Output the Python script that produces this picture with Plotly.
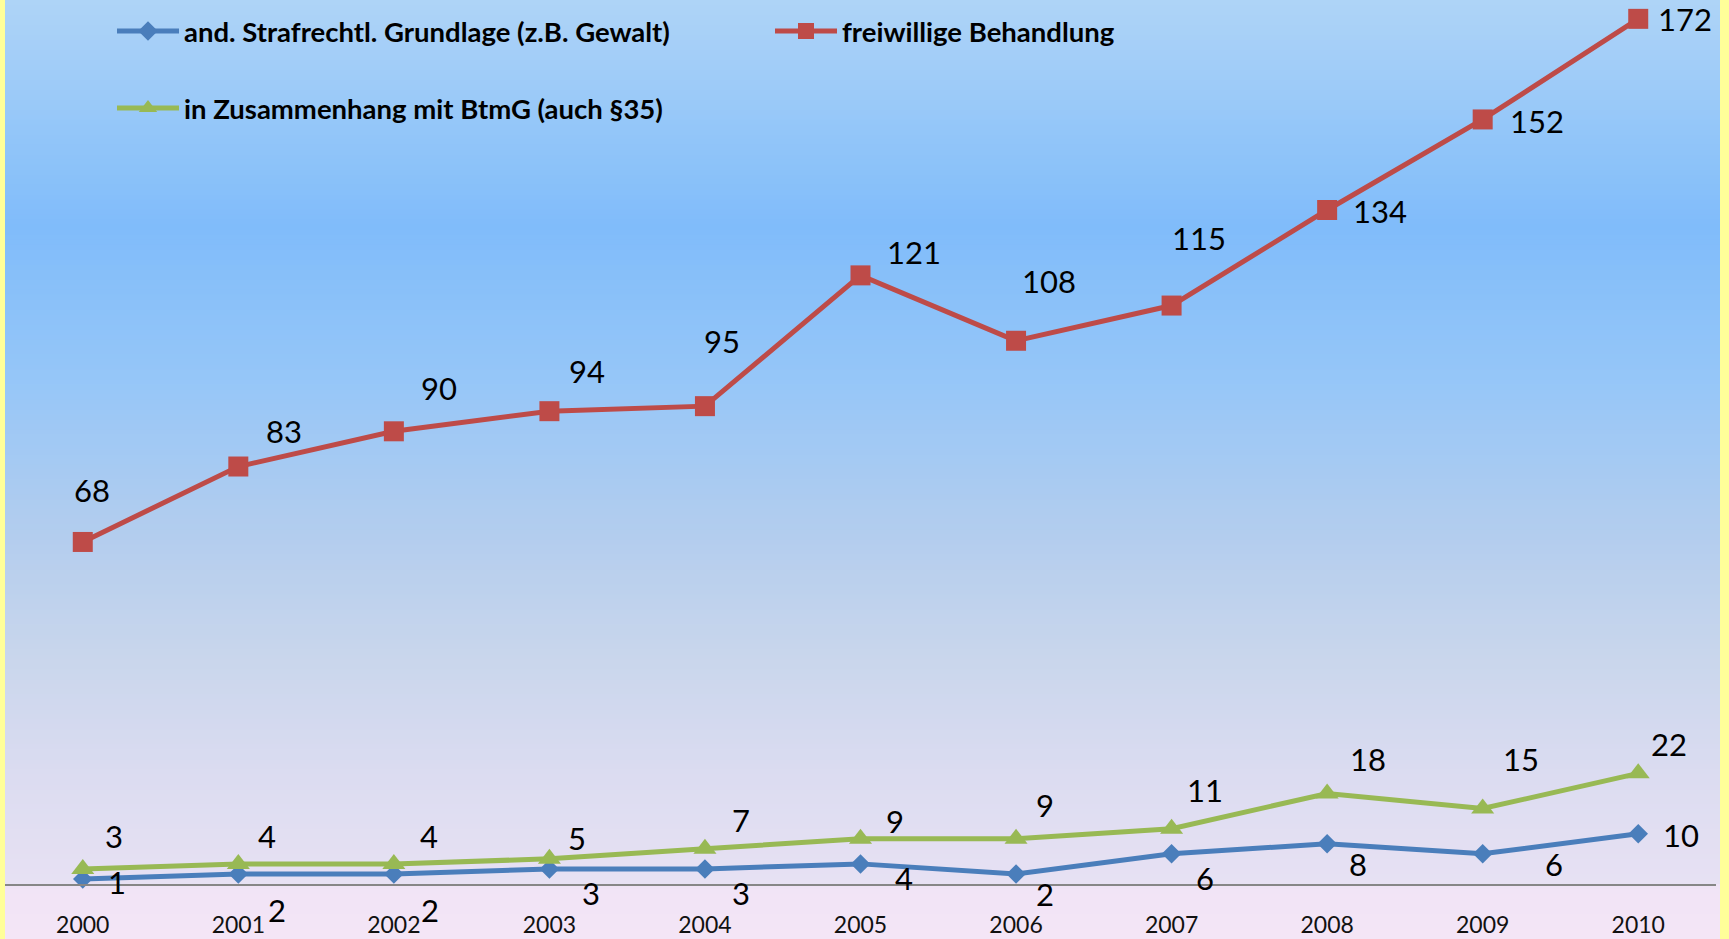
import plotly.graph_objects as go

# --- data -------------------------------------------------------------
years = ["2000", "2001", "2002", "2003", "2004", "2005",
         "2006", "2007", "2008", "2009", "2010"]
gewalt = [1, 2, 2, 3, 3, 4, 2, 6, 8, 6, 10]
freiwillig = [68, 83, 90, 94, 95, 121, 108, 115, 134, 152, 172]
btmg = [3, 4, 4, 5, 7, 9, 9, 11, 18, 15, 22]

name_gewalt = "and. Strafrechtl. Grundlage (z.B. Gewalt)"
name_freiwillig = "freiwillige Behandlung"
name_btmg = "in Zusammenhang mit BtmG (auch §35)"

# --- label offsets in px (dx right, dy up) ------------------------------
off_freiwillig = [(9, 52), (46, 36), (45, 43), (38, 40), (17, 65), (53, 23),
                  (33, 60), (27, 68), (53, -1), (54, -2), (47, 0)]
off_gewalt = [(34, -3), (39, -36), (36, -36), (42, -24), (36, -24), (43, -14),
              (29, -20), (33, -24), (31, -20), (71, -10), (43, -1)]
off_btmg = [(31, 33), (29, 28), (35, 28), (28, 21), (36, 29), (34, 18),
            (29, 34), (33, 39), (41, 34), (38, 50), (31, 29)]

W, H = 1729, 939
BLUE = "#4a7ebb"
RED = "#be4b48"
GREEN = "#98b954"
FONT = "Lato"

fig = go.Figure()

fig.add_trace(go.Scatter(
    x=years, y=gewalt, name=name_gewalt, mode="lines+markers",
    line=dict(color=BLUE, width=5),
    marker=dict(symbol="diamond", size=15, color=BLUE),
    legend="legend", cliponaxis=False,
))
fig.add_trace(go.Scatter(
    x=years, y=freiwillig, name=name_freiwillig, mode="lines+markers",
    line=dict(color=RED, width=5),
    marker=dict(symbol="square", size=20, color=RED),
    legend="legend", cliponaxis=False,
))
fig.add_trace(go.Scatter(
    x=years, y=btmg, name=name_btmg, mode="lines+markers",
    line=dict(color=GREEN, width=5),
    marker=dict(symbol="triangle-up", size=20, color=GREEN),
    legend="legend2", cliponaxis=False,
))

# --- value labels (x given as category index) ----------------------------
annotations = []
for vals, offs in ((freiwillig, off_freiwillig), (gewalt, off_gewalt), (btmg, off_btmg)):
    for i, (v, (dx, dy)) in enumerate(zip(vals, offs)):
        annotations.append(dict(
            x=i, y=v, xref="x", yref="y", text=str(v), showarrow=False,
            xshift=dx, yshift=dy, xanchor="center", yanchor="middle",
            font=dict(family=FONT, size=31, color="black"),
        ))

# --- background gradient (light blue -> lavender) -----------------------
stops = [
    (0.00, "#afd4f7"),
    (0.24, "#80bcfa"),
    (0.40, "#95c6f8"),
    (0.57, "#b3cdee"),
    (0.70, "#c9d6ec"),
    (0.83, "#dcdcf1"),
    (0.94, "#e7e1f3"),
    (0.945, "#f1e4f6"),
    (1.00, "#f4e5f6"),
]


def hex_rgb(h):
    h = h.lstrip("#")
    return tuple(int(h[i:i + 2], 16) for i in (0, 2, 4))


def color_at(t):
    for (t0, c0), (t1, c1) in zip(stops[:-1], stops[1:]):
        if t0 <= t <= t1:
            f = 0 if t1 == t0 else (t - t0) / (t1 - t0)
            a, b = hex_rgb(c0), hex_rgb(c1)
            return "rgb(%d,%d,%d)" % tuple(round(a[i] + (b[i] - a[i]) * f) for i in range(3))
    return stops[-1][1]


shapes = []
n_bands = 188
for i in range(n_bands):
    t0 = i / n_bands
    t1 = (i + 1) / n_bands
    shapes.append(dict(
        type="rect", xref="paper", yref="paper", x0=0, x1=1,
        y0=1 - t1 - 0.001, y1=1 - t0, fillcolor=color_at((t0 + t1) / 2),
        line=dict(width=0), layer="below",
    ))
# yellow frame at the left and right edges
for x0, x1 in ((0, 5 / W), (1720 / W, 1)):
    shapes.append(dict(
        type="rect", xref="paper", yref="paper", x0=x0, x1=x1, y0=0, y1=1,
        fillcolor="#ffff99", line=dict(width=0), layer="below",
    ))

axis_y = 884  # pixel row of the category axis
legend_font = dict(family=FONT, size=27.5, color="black", weight="bold")

fig.update_layout(
    width=W, height=H, autosize=False,
    margin=dict(l=0, r=0, t=0, b=0, pad=0),
    paper_bgcolor="#f4e5f6",
    plot_bgcolor="rgba(0,0,0,0)",
    shapes=shapes,
    annotations=annotations,
    xaxis=dict(
        type="category", range=[-0.5, 10.5], domain=[5 / W, 1716 / W],
        showgrid=False, zeroline=False, showline=True,
        linecolor="#868686", linewidth=2, ticks="",
        ticklabelstandoff=19,
        tickfont=dict(family=FONT, size=23, color="#111111"),
        automargin=False,
    ),
    yaxis=dict(
        range=[0, axis_y / 5.03], domain=[1 - axis_y / H, 1],
        showgrid=False, zeroline=False, showline=False,
        showticklabels=False, ticks="", automargin=False,
    ),
    legend=dict(
        orientation="h", x=112 / W, y=1 - 31 / H, xanchor="left", yanchor="middle",
        entrywidth=581, entrywidthmode="pixels", itemwidth=62,
        font=legend_font, bgcolor="rgba(0,0,0,0)", borderwidth=0,
    ),
    legend2=dict(
        orientation="h", x=112 / W, y=1 - 108 / H, xanchor="left", yanchor="middle",
        itemwidth=62,
        font=legend_font, bgcolor="rgba(0,0,0,0)", borderwidth=0,
    ),
    showlegend=True,
)

fig.write_html("out.html")
